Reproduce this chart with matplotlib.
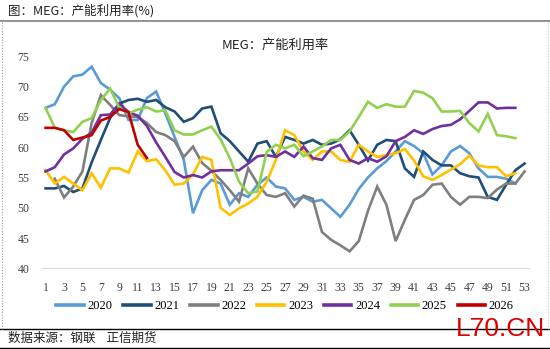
import numpy as np
import matplotlib.pyplot as plt
from matplotlib.lines import Line2D

plt.rcParams['font.family'] = ['Noto Sans CJK SC', 'DejaVu Sans']

weeks = list(range(1, 54))

y2020 = [66.5, 67.1, 70.0, 71.7, 72.0, 73.3, 70.6, 69.5, 68.1, 64.5,
         64.5, 68.1, 69.2, 65.6, 61.7, 57.9, 49.1, 52.9, 54.6, 54.0,
         50.5, 52.4, 51.8, 53.8, 55.0, 53.5, 53.2, 51.3, 51.8, 51.0,
         51.3, 49.9, 48.5, 50.5, 53.1, 55.0, 56.5, 57.7, 59.3, 61.0,
         60.2, 59.0, 55.5, 57.0, 59.3, 60.2, 59.0, 56.5, 55.1, 55.1,
         54.8, 54.0]
y2021 = [53.2, 53.2, 53.6, 52.6, 53.2, 57.5, 61.2, 64.8, 67.2, 67.8,
         68.0, 67.5, 67.8, 66.6, 65.9, 64.2, 64.8, 66.4, 66.7, 62.3,
         61.0, 59.3, 57.6, 60.6, 61.0, 58.4, 61.7, 61.2, 60.6, 61.2,
         60.4, 60.6, 61.3, 62.8, 60.4, 57.8, 60.4, 61.2, 61.0, 56.5,
         55.1, 59.3, 57.9, 57.0, 57.0, 55.7, 55.2, 55.0, 51.8, 51.3,
         53.8, 56.2, 57.3]
y2022 = [None, 54.8, 51.7, 53.5, 56.0, 64.0, 68.6, 67.0, 65.3, 65.1,
         65.0, 64.0, 62.5, 62.0, 61.0, 58.4, 60.1, 57.4, 56.1, 54.6,
         52.9, 51.0, 56.5, 54.0, 52.1, 51.8, 52.4, 50.2, 52.0, 51.5,
         46.0, 44.7, 43.8, 42.8, 44.5, 49.5, 53.5, 50.5, 44.5, 48.0,
         51.3, 52.1, 53.8, 54.0, 51.8, 50.5, 51.8, 51.8, 51.6, 53.0,
         54.0, 54.0, 56.0]
y2023 = [56.2, 54.0, 55.1, 54.0, 52.9, 55.7, 53.3, 56.5, 56.5, 55.8,
         59.3, 57.7, 58.0, 56.2, 53.8, 54.0, 55.5, 58.4, 57.9, 50.0,
         48.8, 49.9, 50.7, 51.8, 54.3, 57.9, 62.8, 62.0, 59.3, 57.9,
         59.3, 59.3, 57.9, 57.6, 60.4, 59.3, 58.4, 58.7, 59.0, 59.7,
         57.8, 55.2, 54.6, 55.4, 56.3, 57.2, 58.6, 57.0, 56.7, 56.7,
         55.2, 55.7]
y2024 = [56.0, 56.7, 58.8, 59.8, 61.4, 62.4, 65.3, 65.4, 67.2, 65.8,
         65.2, 63.5, 60.8, 58.4, 55.9, 55.0, 55.4, 55.0, 56.0, 56.2,
         56.2, 56.2, 57.3, 58.5, 58.7, 58.4, 59.3, 58.4, 60.1, 58.2,
         57.9, 59.8, 60.4, 57.9, 57.3, 58.2, 57.6, 58.5, 61.0, 61.7,
         62.8, 62.2, 63.0, 63.5, 63.7, 64.6, 66.0, 67.4, 67.4, 66.4,
         66.5, 66.5]
y2025 = [66.5, 63.2, 62.8, 62.5, 64.2, 64.8, 67.8, 69.7, 66.5, 65.6,
         66.2, 66.6, 65.9, 66.1, 62.8, 62.1, 62.1, 62.8, 63.4, 61.3,
         58.2, 54.3, 52.4, 52.7, 59.2, 60.4, 59.8, 60.4, 58.5, 59.3,
         60.1, 61.2, 61.2, 62.6, 65.0, 67.5, 66.5, 67.1, 66.7, 66.7,
         69.3, 69.0, 68.1, 65.9, 65.9, 66.0, 64.0, 62.6, 65.5, 62.0,
         61.8, 61.5]
y2026 = [63.2, 63.2, 62.8, 61.2, 61.6, 62.0, 64.4, 65.0, 66.3, 65.8,
         60.4, 58.2]

series = [("2020", y2020, "#5B9BD5"),
          ("2021", y2021, "#1F4E79"),
          ("2022", y2022, "#7F7F7F"),
          ("2023", y2023, "#FFC000"),
          ("2024", y2024, "#7030A0"),
          ("2025", y2025, "#92D050"),
          ("2026", y2026, "#C00000")]

fig = plt.figure(figsize=(5.5, 3.49), dpi=100)
H = 349.0
ax = fig.add_axes([42 / 550, (H - 268.3) / H, 487 / 550, (268.3 - 56.4) / H])

handles = []
for name, vals, col in series:
    v = np.array([np.nan if a is None else a for a in vals], dtype=float)
    ax.plot(weeks[:len(v)], v, color=col, lw=1.9, solid_joinstyle='miter')
    handles.append(Line2D([0], [0], color=col, lw=2.6))

ax.set_xlim(0.61, 53.48)
ax.set_ylim(40, 75)
ax.set_xticks(range(1, 54, 2))
ax.set_yticks(range(40, 76, 5))
for s in ['top', 'right', 'left']:
    ax.spines[s].set_visible(False)
ax.spines['bottom'].set_color('#D9D9D9')
ax.spines['bottom'].set_linewidth(0.8)
ax.tick_params(length=0, labelsize=8.5)
ax.tick_params(axis='x', pad=10)
ax.tick_params(axis='y', pad=9)
for lab in ax.get_xticklabels() + ax.get_yticklabels():
    lab.set_family(['Liberation Serif', 'DejaVu Serif'])
    lab.set_color('#404040')

fig.text(275 / 550, 1 - 45 / H, "MEG：产能利用率", ha='center', va='center',
         fontsize=9.5, color='#222222')

# header and footer of the figure frame
fig.text(8 / 550, 1 - 11 / H, "图：MEG：产能利用率(%)", ha='left', va='center',
         fontsize=9, color='#222222')
fig.add_artist(Line2D([0, 1], [1 - 20.7 / H, 1 - 20.7 / H], color='#808080', lw=1.2))
fig.add_artist(Line2D([0, 1], [1 - 329.3 / H, 1 - 329.3 / H], color='black', lw=1.0))
fig.add_artist(Line2D([0, 1], [1 - 348.3 / H, 1 - 348.3 / H], color='black', lw=1.0))
fig.add_artist(Line2D([1.5 / 550, 1.5 / 550], [1 - 329 / H, 1 - 21 / H], color='#A0A0A0',
                      lw=0.8, ls=(0, (1, 1.5))))
fig.add_artist(Line2D([548 / 550, 548 / 550], [1 - 329 / H, 1 - 21 / H], color='#C8C8C8',
                      lw=0.8, ls=(0, (1, 1.5))))
fig.text(8 / 550, 1 - 338.5 / H, "数据来源：钢联    正信期货", ha='left', va='center',
         fontsize=9, color='#222222')
fig.text(501 / 550, 1 - 329.5 / H, "L70.CN", ha='center', va='center',
         fontsize=19, color='#E00000', family=['Liberation Sans', 'DejaVu Sans'])

leg = fig.legend(handles, [s[0] for s in series], loc='center', ncol=7,
                 bbox_to_anchor=(285 / 550, 1 - 306 / H), frameon=False,
                 handlelength=2.2, handletextpad=0.3, columnspacing=0.85,
                 borderpad=0, borderaxespad=0,
                 prop={'family': ['Liberation Serif', 'DejaVu Serif'], 'size': 9})

fig.savefig("out.png", dpi=100)
